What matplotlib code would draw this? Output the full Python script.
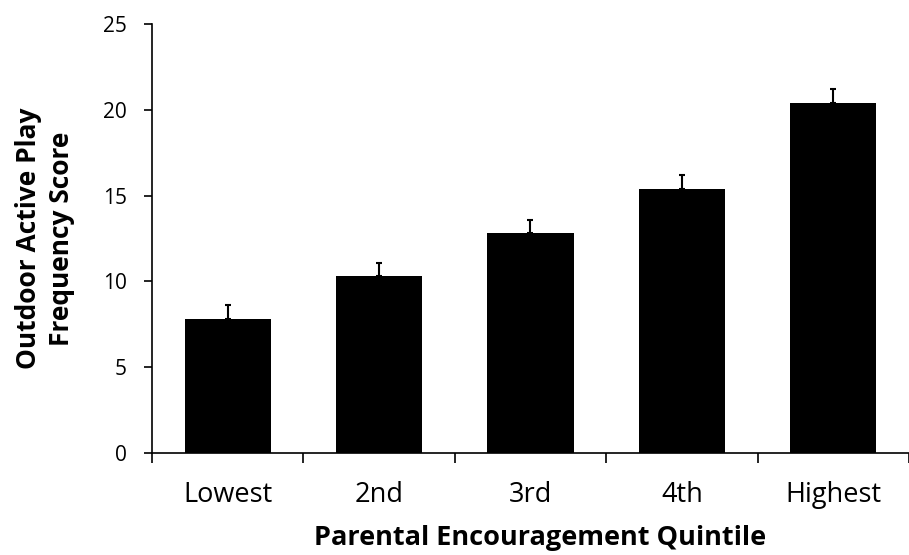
import numpy as np
import matplotlib.pyplot as plt

quintiles = ['Lowest', '2nd', '3rd', '4th', 'Highest']
scores = [7.8, 10.3, 12.8, 15.4, 20.4]
errors = [0.8, 0.8, 0.8, 0.8, 0.8]

plt.rcParams['font.family'] = ['Open Sans', 'DejaVu Sans']

fig = plt.figure(figsize=(9.09, 5.55), dpi=100)
ax = fig.add_axes([0.1672, 0.1838, 0.8328, 0.773])

x = np.arange(len(quintiles))
ax.bar(x, scores, width=0.57, color='black', zorder=2)
ax.errorbar(x, scores, yerr=[np.zeros(len(errors)), errors], fmt='none',
            ecolor='black', elinewidth=1.5, capsize=2.5, capthick=1.5, zorder=3)

ax.set_xlim(-0.5, len(quintiles) - 0.5)
ax.set_ylim(0, 25)
ax.set_yticks(np.arange(0, 26, 5))
ax.set_xticks(x)
ax.set_xticklabels(quintiles, fontsize=19.5)
ax.set_xticks(np.arange(-0.5, len(quintiles), 1), minor=True)
ax.tick_params(axis='x', which='major', length=0, pad=20)
ax.tick_params(axis='x', which='minor', length=7, width=1.2, direction='out')
ax.tick_params(axis='y', length=6, width=1.2, labelsize=15, pad=12)

for s in ['top', 'right']:
    ax.spines[s].set_visible(False)
ax.spines['left'].set_linewidth(1.2)
ax.spines['bottom'].set_linewidth(1.2)

ax.set_xlabel('Parental Encouragement Quintile', fontsize=19.5, fontweight='bold', labelpad=12)
ax.xaxis.label.set_x(0.513)
ax.set_ylabel('Outdoor Active Play\nFrequency Score', fontsize=19, fontweight='bold',
              labelpad=20, linespacing=1.3)

fig.savefig('out.png', dpi=100)
